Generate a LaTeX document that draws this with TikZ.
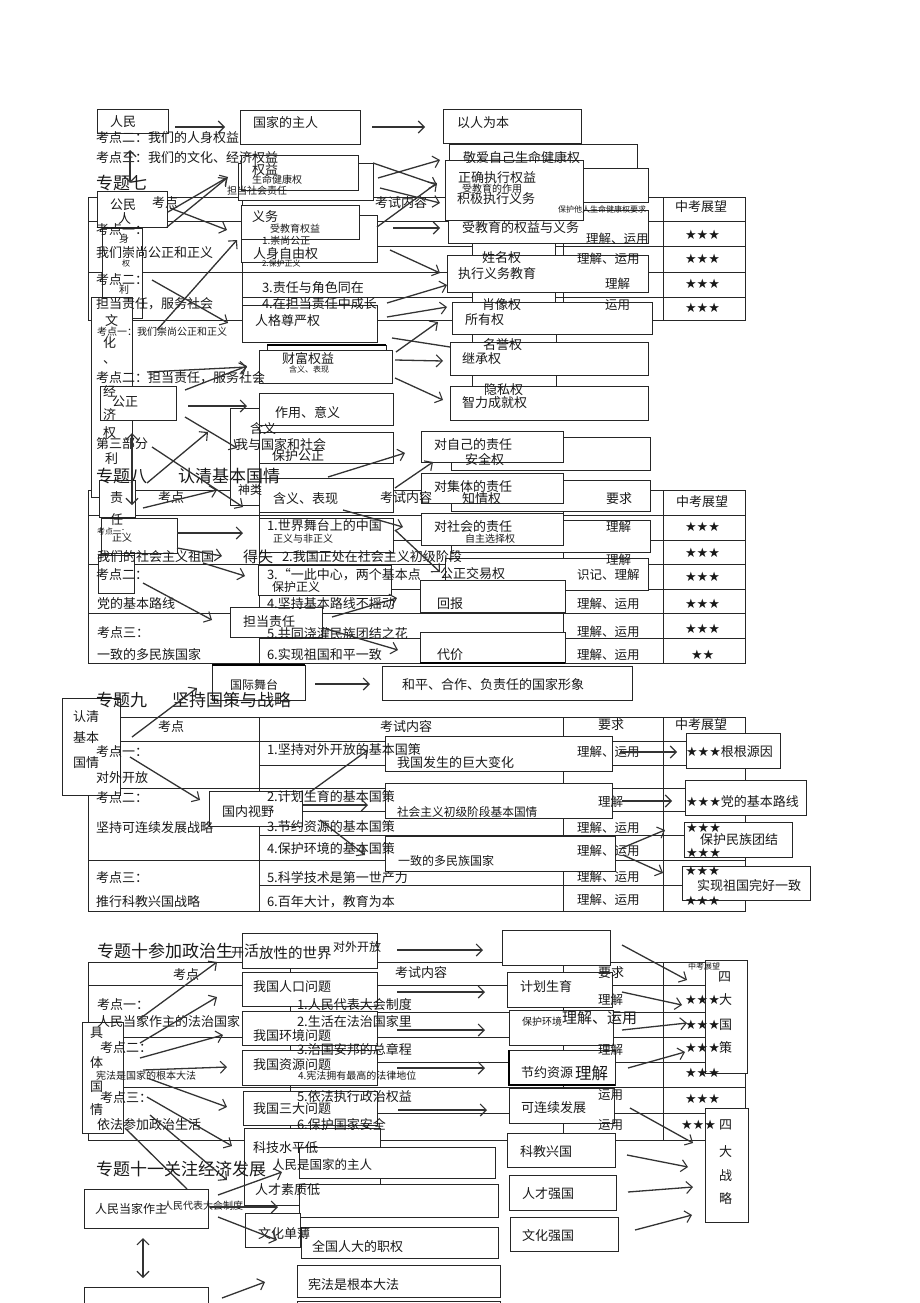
\documentclass[tikz,border=0pt]{standalone}
\usepackage{fontspec}
\setmainfont{Noto Sans CJK SC}
\newfontfamily\symf{DejaVu Sans}
\usetikzlibrary{arrows.meta}
\newcounter{tn}
\newcounter{an}
\newcommand\putT[4][]{\stepcounter{tn}\node[txt,#1] (t\arabic{tn}) at (#2,#3) {#4};}
\newcommand\putB[6][]{\node[bx,#1,minimum width={(#5-#3)*1pt},minimum height={(#6-#4)*1pt}] (#2) at (#3,#4) {};}
\newcommand\putA[5][]{\stepcounter{an}\coordinate (p\arabic{an}) at (#2,#3);\coordinate (q\arabic{an}) at (#4,#5);\draw[arr,#1] (p\arabic{an}) -- (q\arabic{an});}
\newcommand\putL[4]{\draw[tl] (#1,#2) -- (#3,#4);}
\begin{document}
\begin{tikzpicture}[x=1pt,y=-1pt,
  bx/.style={draw=black!85,fill=white,line width=0.9pt,inner sep=0,outer sep=0,anchor=north west},
  txt/.style={anchor=west,inner sep=0,outer sep=0,font=\fontsize{13}{15}\selectfont,text=black!90},
  sm/.style={font=\fontsize{10}{12}\selectfont},
  xs/.style={font=\fontsize{8}{10}\selectfont},
  tb/.style={font=\fontsize{12.5}{14}\selectfont},
  ttl/.style={font=\fontsize{17}{20}\selectfont},
  st/.style={font=\symf\fontsize{13}{15}\selectfont},
  arr/.style={draw=black!80,line width=1.3pt,-{Straight Barb[length=6pt,width=12pt,line width=1.1pt]}},
  darr/.style={{Straight Barb[length=6pt,width=12pt,line width=1.1pt]}-{Straight Barb[length=6pt,width=12pt,line width=1.1pt]}},
  tl/.style={draw=black!85,line width=0.9pt}]
\fill[white] (0,0) rectangle (920,1303);
\useasboundingbox (0,0) rectangle (920,1303);

% ---------------- tables ----------------
\draw[tl] (88,197) rectangle (745,320);
\putL{242}{197}{242}{320}\putL{563}{197}{563}{320}\putL{663}{197}{663}{320}
\putL{88}{221}{745}{221}\putL{242}{246}{745}{246}\putL{88}{272}{745}{272}\putL{242}{297}{745}{297}

\draw[tl] (88,490) rectangle (745,663);
\putL{259}{490}{259}{663}\putL{563}{490}{563}{663}\putL{663}{490}{663}{663}
\putL{88}{515}{745}{515}\putL{259}{540}{745}{540}\putL{88}{564}{745}{564}
\putL{259}{589}{745}{589}\putL{88}{613}{745}{613}\putL{259}{638}{745}{638}

\draw[tl] (88,717) rectangle (745,911);
\putL{259}{717}{259}{911}\putL{563}{717}{563}{911}\putL{663}{717}{663}{911}
\putL{88}{741}{745}{741}\putL{259}{765}{745}{765}\putL{88}{788}{745}{788}
\putL{259}{811}{745}{811}\putL{259}{835}{745}{835}\putL{88}{860}{745}{860}\putL{259}{885}{745}{885}

\draw[tl] (88,962) rectangle (745,1140);
\putL{290}{962}{290}{1140}\putL{563}{962}{563}{1140}\putL{663}{962}{663}{1140}
\putL{88}{985}{745}{985}\putL{290}{1012}{745}{1012}\putL{88}{1037}{745}{1037}
\putL{290}{1062}{745}{1062}\putL{88}{1087}{745}{1087}\putL{290}{1113}{745}{1113}

% ---------------- boxes ----------------
\putB{renmin}{97}{109}{168}{133}
\putB{zhuren}{240}{110}{360}{144}
\putB{yiren}{443}{109}{581}{143}
\putB{jingaiB}{449}{168}{648}{202}
\putB{jingai}{449}{144}{637}{168}
\putB{shoujiao}{448}{210}{648}{243}
\putB{zhengque}{445}{160}{583}{220}
\putB{quanyiB}{238}{163}{373}{200}
\putB{quanyi}{241}{155}{358}{190}
\putB{gongmin}{97}{191}{167}{227}
\putB{yiwuB}{241}{215}{377}{262}
\putB{yiwu}{241}{205}{359}{239}
\putB{shen}{102}{228}{142}{318}
\putB{xiaoB}{472}{243}{555}{305}
\putB{zhixing}{447}{255}{648}{292}
\putB{xiaoB2}{472}{330}{556}{390}
\putB{suoyou}{452}{302}{652}{334}
\putB{renge}{242}{305}{377}{342}
\putB{wen}{91}{297}{132}{497}
\putB{gongzheng}{100}{386}{176}{420}
\putB{caifuB}{267}{345}{386}{352}
\putB{caifu}{259}{350}{392}{383}
\putB{jicheng}{450}{342}{648}{375}
\putB{zhili}{450}{386}{648}{420}
\putB{zuoyong}{259}{393}{393}{425}
\putB{hanyiB}{230}{408}{259}{505}
\putB{woyu}{259}{432}{393}{463}
\putB{duizijiB}{451}{437}{650}{470}
\putB{duiziji}{421}{431}{563}{462}
\putB{hanyibiao}{259}{478}{393}{512}
\putB{duijitiB}{451}{480}{650}{511}
\putB{duijiti}{421}{473}{563}{503}
\putB{zeren}{99}{480}{135}{517}
\putB{zhengyi}{101}{518}{177}{553}
\putB{shijie}{259}{518}{393}{552}
\putB{duishehuiB}{451}{520}{650}{552}
\putB{duishehui}{421}{513}{563}{545}
\putB{box3}{98}{555}{134}{593}
\putB{gongjiao}{445}{558}{648}{590}
\putB{yici}{258}{565}{391}{595}
\putB{huibao}{420}{580}{565}{612}
\putB{dandang}{230}{607}{322}{637}
\putB{daijia}{420}{632}{565}{663}
\putB{guoji}{212}{665}{305}{700}
\putB{heping}{382}{666}{632}{700}
\draw[line width=2.4pt] (267,345) -- (386,345);
\draw[line width=2.4pt] (212,665) -- (305,665);
\draw[line width=2.4pt] (420,663) -- (565,663);

\putB{renqing}{62}{698}{120}{795}
\putB{fazhan}{385}{736}{612}{771}
\putB{genyuan}{686}{733}{780}{768}
\putB{shehui}{385}{783}{612}{818}
\putB{guonei}{209}{791}{302}{826}
\putB{dangde}{685}{780}{806}{815}
\putB{minzu}{684}{822}{792}{857}
\putB{duominzu}{385}{836}{615}{871}
\putB{wanhao}{682}{866}{810}{900}

\putB{kaifang}{242}{933}{377}{968}
\putB{empty1}{502}{930}{610}{965}
\putB{renkou}{242}{972}{377}{1006}
\putB{huanjing}{242}{1011}{377}{1045}
\putB{ziyuan}{242}{1050}{377}{1085}
\putB{sanda}{243}{1091}{377}{1125}
\putB{keji}{244}{1128}{380}{1205}
\putB{jihua}{507}{972}{612}{1007}
\putB{baohu}{509}{1010}{613}{1045}
\putB{jieyue}{509}{1050}{615}{1085}
\draw[line width=2.2pt] (509,1050) -- (509,1085) -- (615,1085);
\putB{kelianxu}{509}{1088}{614}{1123}
\putB{siguoce}{705}{960}{747}{1073}
\putB{sizhanlue}{705}{1108}{748}{1222}
\putB{juti}{82}{1022}{123}{1133}
\putB{renmin2}{299}{1147}{495}{1178}
\putB{kongbox}{299}{1184}{498}{1217}
\putB{wenhuabox}{245}{1213}{300}{1247}
\putB{quanguo}{301}{1227}{498}{1258}
\putB{xianfa}{297}{1265}{500}{1297}
\putB{bottomR}{297}{1301}{500}{1320}
\putB{renmindang}{84}{1189}{208}{1228}
\putB{bottomL}{84}{1287}{208}{1320}
\putB{kejiao}{507}{1133}{615}{1167}
\putB{rencai}{509}{1175}{616}{1210}
\putB{wenhua2}{510}{1217}{618}{1251}

% ---------------- texts: 专题七 ----------------
\putT{110}{122}{人民}
\putT{253}{123}{国家的主人}
\putT{457}{123}{以人为本}
\putT{96}{138}{考点二：我们的人身权益}
\putT{96}{158}{考点三：我们的文化、经济权益}
\putT{463}{158}{敬爱自己生命健康权}
\putT[ttl]{96}{183}{专题七}
\putT{252}{170}{权益}
\putT[sm]{252}{180}{生命健康权}
\putT[sm]{227}{191}{担当社会责任}
\putT{458}{178}{正确执行权益}
\putT[sm]{462}{189}{受教育的作用}
\putT{457}{199}{积极执行义务}
\putT[xs]{558}{209}{保护他人生命健康权要求}
\putT{110}{205}{公民}
\putT{152}{203}{考点}
\putT{375}{203}{考试内容}
\putT{675}{207}{中考展望}
\putT{118}{219}{人}
\putT{252}{217}{义务}
\putT[sm]{270}{229}{受教育权益}
\putT{96}{230}{考点一：}
\putT{462}{228}{受教育的权益与义务}
\putT[sm]{119}{239}{身}
\putT[sm]{262}{241}{1.崇尚公正}
\putT[tb]{586}{239}{理解、运用}
\putT{96}{253}{我们崇尚公正和正义}
\putT{253}{254}{人身自由权}
\putT{482}{258}{姓名权}
\putT[tb]{577}{259}{理解、运用}
\putT[xs]{122}{263}{权}
\putT[xs]{262}{263}{2.保护正义}
\putT{458}{274}{执行义务教育}
\putT{96}{280}{考点二：}
\putT[sm]{119}{290}{利}
\putT[tb]{605}{284}{理解}
\putT{262}{288}{3.责任与角色同在}
\putT{96}{304}{担当责任，服务社会}
\putT{262}{304}{4.在担当责任中成长}
\putT{482}{305}{肖像权}
\putT[tb]{605}{305}{运用}
\putT{105}{320}{文}
\putT{255}{321}{人格尊严权}
\putT{465}{320}{所有权}
\putT[st]{685}{235}{★★★}
\putT[st]{685}{259}{★★★}
\putT[st]{685}{284}{★★★}
\putT[st]{685}{308}{★★★}

% ---------------- texts: 专题八 ----------------
\putT[sm]{97}{332}{考点一：我们崇尚公正和正义}
\putT{103}{343}{化}
\putT{103}{362}{、}
\putT{483}{345}{名誉权}
\putT{282}{359}{财富权益}
\putT[xs]{289}{369}{含义、表现}
\putT{462}{359}{继承权}
\putT{96}{378}{考点二：担当责任，服务社会}
\putT{103}{391}{经}
\putT{484}{390}{隐私权}
\putT{112}{402}{公正}
\putT{462}{403}{智力成就权}
\putT{275}{413}{作用、意义}
\putT{103}{414}{济}
\putT{250}{429}{含义}
\putT{103}{433}{权}
\putT{434}{445}{对自己的责任}
\putT{96}{444}{第三部分}
\putT{235}{445}{我与国家和社会}
\putT{272}{456}{保护公正}
\putT{465}{460}{安全权}
\putT{105}{459}{利}
\putT[ttl]{96}{476}{专题八}
\putT[ttl]{178}{476}{认清基本国情}
\putT{434}{487}{对集体的责任}
\putT[font=\fontsize{12}{14}\selectfont]{238}{490}{神类}
\putT{462}{499}{知情权}
\putT{158}{498}{考点}
\putT{273}{499}{含义、表现}
\putT{380}{498}{考试内容}
\putT{606}{499}{要求}
\putT{676}{502}{中考展望}
\putT{110}{498}{责}
\putT{110}{520}{任}
\putT{434}{527}{对社会的责任}
\putT[xs]{97}{531}{考点一：}
\putT[tb]{606}{527}{理解}
\putT{267}{526}{1.世界舞台上的中国}
\putT[sm]{112}{538}{正义}
\putT[sm]{273}{539}{正义与非正义}
\putT[sm]{465}{539}{自主选择权}
\putT[font=\fontsize{15}{17}\selectfont]{243}{557}{得失}
\putT{282}{557}{2.我国正处在社会主义初级阶段}
\putT{97}{557}{我们的社会主义祖国}
\putT[tb]{606}{560}{理解}
\putT{440}{574}{公正交易权}
\putT{96}{575}{考点二：}
\putT{267}{575}{3.“一此中心，两个基本点}
\putT[tb]{577}{575}{识记、理解}
\putT[font=\fontsize{12}{14}\selectfont]{272}{587}{保护正义}
\putT{97}{604}{党的基本路线}
\putT{267}{604}{4.坚持基本路线不摇动}
\putT{437}{604}{回报}
\putT[tb]{577}{604}{理解、运用}
\putT{243}{622}{担当责任}
\putT{97}{633}{考点三：}
\putT{267}{634}{5.共同浇灌民族团结之花}
\putT[tb]{577}{632}{理解、运用}
\putT{97}{655}{一致的多民族国家}
\putT{267}{655}{6.实现祖国和平一致}
\putT{437}{655}{代价}
\putT[tb]{577}{655}{理解、运用}
\putT[st]{685}{527}{★★★}
\putT[st]{685}{553}{★★★}
\putT[st]{685}{577}{★★★}
\putT[st]{685}{604}{★★★}
\putT[st]{685}{629}{★★★}
\putT[st]{691}{655}{★★}
\putT[font=\fontsize{12}{14}\selectfont]{230}{685}{国际舞台}
\putT{402}{685}{和平、合作、负责任的国家形象}

% ---------------- texts: 专题九 ----------------
\putT[ttl]{96}{700}{专题九}
\putT[ttl]{172}{700}{坚持国策与战略}
\putT{73}{717}{认清}
\putT{73}{738}{基本}
\putT{73}{763}{国情}
\putT{158}{727}{考点}
\putT{380}{727}{考试内容}
\putT{598}{725}{要求}
\putT{675}{725}{中考展望}
\putT{96}{752}{考点一：}
\putT{267}{750}{1.坚持对外开放的基本国策}
\putT{397}{763}{我国发生的巨大变化}
\putT[tb]{577}{752}{理解、运用}
\putT{686}{752}{{\symf ★★★}根根源因}
\putT{96}{778}{对外开放}
\putT{96}{798}{考点二：}
\putT{267}{797}{2.计划生育的基本国策}
\putT{222}{812}{国内视野}
\putT[font=\fontsize{11.7}{14}\selectfont]{397}{812}{社会主义初级阶段基本国情}
\putT[tb]{598}{802}{理解}
\putT{686}{802}{{\symf ★★★}党的基本路线}
\putT{96}{828}{坚持可连续发展战略}
\putT{267}{827}{3.节约资源的基本国策}
\putT[tb]{577}{828}{理解、运用}
\putT[st]{686}{828}{★★★}
\putT{700}{840}{保护民族团结}
\putT[st]{686}{853}{★★★}
\putT{267}{849}{4.保护环境的基本国策}
\putT[font=\fontsize{12}{14}\selectfont]{398}{861}{一致的多民族国家}
\putT[tb]{577}{851}{理解、运用}
\putT{96}{878}{考点三：}
\putT{267}{878}{5.科学技术是第一世产力}
\putT[tb]{577}{877}{理解、运用}
\putT[st]{685}{871}{★★★}
\putT{697}{886}{实现祖国完好一致}
\putT[st]{685}{901}{★★★}
\putT{96}{902}{推行科教兴国战略}
\putT{267}{902}{6.百年大计，教育为本}
\putT[tb]{577}{900}{理解、运用}

% ---------------- texts: 专题十 ----------------
\putT[ttl]{97}{951}{专题十参加政治生}
\putT{231}{953}{开}
\putT[font=\fontsize{15}{17}\selectfont]{244}{951}{活}
\putT[font=\fontsize{14.5}{17}\selectfont]{259}{953}{放性的世界}
\putT[font=\fontsize{12}{14}\selectfont]{333}{947}{对外开放}
\putT{173}{975}{考点}
\putT{395}{973}{考试内容}
\putT{598}{973}{要求}
\putT[xs]{688}{966}{中考展望}
\putT{97}{1005}{考点一：}
\putT{297}{1005}{1.人民代表大会制度}
\putT[tb]{598}{1000}{理解}
\putT{97}{1022}{人民当家作主的法治国家}
\putT{297}{1022}{2.生活在法治国家里}
\putT[sm]{522}{1022}{保护环境}
\putT[font=\fontsize{15}{17}\selectfont]{562}{1018}{理解、运用}
\putT{100}{1048}{考点二：}
\putT{297}{1049}{3.治国安邦的总章程}
\putT[tb]{598}{1050}{理解}
\putT[sm]{96}{1076}{宪法是国家的根本大法}
\putT[sm]{298}{1076}{4.宪法拥有最高的法律地位}
\putT{521}{1073}{节约资源}
\putT[font=\fontsize{16.5}{19}\selectfont]{575}{1073}{理解}
\putT{100}{1098}{考点三：}
\putT{297}{1097}{5.依法执行政治权益}
\putT[tb]{598}{1095}{运用}
\putT{521}{1108}{可连续发展}
\putT{97}{1125}{依法参加政治生活}
\putT{297}{1124}{6.保护国家安全}
\putT[tb]{598}{1125}{运用}
\putT{90}{1033}{具}
\putT{90}{1063}{体}
\putT{90}{1087}{国}
\putT{90}{1110}{情}
\putT{253}{987}{我国人口问题}
\putT{253}{1036}{我国环境问题}
\putT{253}{1065}{我国资源问题}
\putT{253}{1109}{我国三大问题}
\putT{520}{987}{计划生育}
\putT{718}{977}{四}
\putT[st]{685}{1000}{★★★}
\putT[st]{685}{1025}{★★★}
\putT[st]{685}{1048}{★★★}
\putT[st]{685}{1073}{★★★}
\putT[st]{685}{1099}{★★★}
\putT[st]{681}{1125}{★★★}
\putT{719}{1000}{大}
\putT{719}{1025}{国}
\putT{719}{1048}{策}
\putT{719}{1125}{四}
\putT{719}{1152}{大}
\putT{719}{1176}{战}
\putT{719}{1198}{略}

% ---------------- texts: 专题十一 ----------------
\putT{253}{1148}{科技水平低}
\putT[ttl]{96}{1169}{专题十一关注经济发展}
\putT[font=\fontsize{12.5}{15}\selectfont]{272}{1165}{人民是国家的主人}
\putT{255}{1190}{人才素质低}
\putT{258}{1233}{文化单薄}
\putT{312}{1247}{全国人大的职权}
\putT{308}{1284}{宪法是根本大法}
\putT[font=\fontsize{12}{14}\selectfont]{95}{1209}{人民当家作主}
\putT[sm]{163}{1206}{人民代表大会制度}
\putT{520}{1152}{科教兴国}
\putT{522}{1194}{人才强国}
\putT{522}{1236}{文化强国}

% ---------------- arrows ----------------
\putA{175}{127}{225}{127}
\putA{372}{127}{425}{127}
\putA[darr]{130}{150}{130}{183}
\putA{168}{212}{228}{177}
\putA{167}{227}{227}{178}
\putA{170}{208}{227}{230}
\putA{152}{280}{228}{323}
\putA{157}{330}{237}{240}
\putA{373}{163}{437}{185}
\putA{378}{178}{440}{160}
\putA{380}{188}{440}{203}
\putA{377}{227}{437}{183}
\putA{393}{228}{440}{228}
\putA{390}{250}{440}{273}
\putA{387}{303}{447}{285}
\putA{387}{317}{447}{307}

\putA{147}{372}{247}{367}
\putA{185}{390}{247}{366}
\putA{188}{406}{247}{406}
\putA{185}{417}{237}{448}
\putA{147}{483}{208}{432}
\putA{152}{447}{243}{507}
\putA{143}{508}{217}{490}
\putA{177}{533}{243}{533}
\putA{177}{548}{222}{556}
\putA{203}{563}{245}{576}
\putA{143}{583}{212}{620}
\putA[darr]{132}{433}{132}{505}
\putA{396}{352}{438}{322}
\putA{395}{360}{443}{361}
\putA{395}{378}{443}{400}
\putA[-]{392}{338}{450}{347}
\putA{328}{477}{405}{453}
\putA{395}{488}{433}{462}
\putA{343}{510}{403}{527}
\putA{395}{530}{440}{572}
\putA{332}{617}{397}{598}
\putA{323}{628}{398}{650}

\putA{132}{737}{197}{688}
\putA{315}{684}{370}{684}
\putA{130}{757}{200}{800}
\putA{310}{792}{368}{750}
\putA{303}{805}{368}{805}
\putA{320}{820}{365}{855}
\putA{620}{752}{677}{752}
\putA{622}{801}{672}{801}
\putA{622}{848}{665}{830}
\putA{623}{855}{663}{873}

\putA{397}{950}{483}{950}
\putA{622}{945}{687}{980}
\putA{397}{992}{485}{992}
\putA{397}{1030}{485}{1030}
\putA{397}{1068}{485}{1068}
\putA{398}{1110}{487}{1110}
\putA{622}{992}{682}{1005}
\putA{622}{1030}{687}{1023}
\putA{628}{1068}{685}{1052}
\putA{630}{1108}{693}{1143}
\putA{627}{1155}{688}{1167}
\putA{628}{1192}{693}{1187}
\putA{635}{1230}{692}{1215}
\putA{138}{1020}{217}{962}
\putA{140}{1043}{217}{997}
\putA{140}{1058}{223}{1035}
\putA{143}{1070}{227}{1067}
\putA{147}{1078}{227}{1107}
\putA{147}{1097}{232}{1146}
\putA{150}{1115}{227}{1180}
\putA[-]{125}{1128}{187}{1189}
\putA{218}{1195}{282}{1172}
\putA{210}{1207}{278}{1207}
\putA{218}{1217}{277}{1240}
\putA{222}{1298}{265}{1282}
\putA[darr]{143}{1238}{143}{1278}
\end{tikzpicture}
\end{document}
